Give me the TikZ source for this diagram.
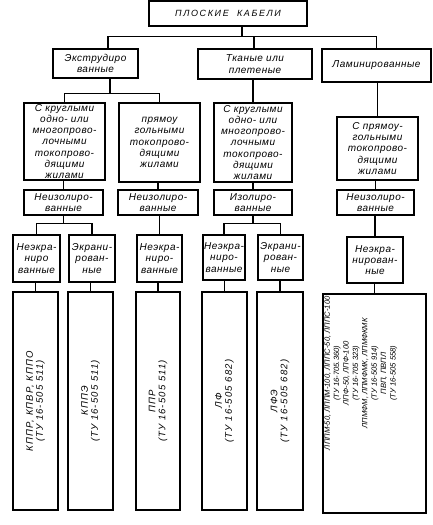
\documentclass[tikz,border=0pt]{standalone}
\usepackage{fontspec}
\setmainfont{Liberation Sans}
\tikzset{
  box/.style={draw, line width=1.4pt, align=center, inner sep=1pt,
    font=\itshape\fontsize{10}{11.3}\selectfont\addfontfeature{LetterSpace=5}},
  conn/.style={line width=1.4pt},
  vtext/.style={rotate=90, align=center, inner sep=0pt,
    font=\itshape\fontsize{9.5}{10}\selectfont\addfontfeature{LetterSpace=12}},
}
\begin{document}
\begin{tikzpicture}[x=1pt,y=-1pt]
\useasboundingbox (0,0) rectangle (433,525);
% level 1
\node[box, minimum width=158, minimum height=25,
  font=\itshape\fontsize{9}{10}\selectfont\addfontfeature{LetterSpace=18}] (top) at (228,13.5) {ПЛОСКИЕ\ \ КАБЕЛИ};
% level 2
\node[box, minimum width=85, minimum height=29] (l2a) at (95.5,63.5) {Экструдиро\\ванные};
\node[box, minimum width=114, minimum height=30] (l2b) at (255,64) {Тканые или\\плетеные};
\node[box, minimum width=109, minimum height=33] (l2c) at (376.5,65.5) {Ламинированные};
% level 3
\node[box, minimum width=81, minimum height=77] (l3a) at (64.5,141.5) {С круглыми\\одно- или\\многопрово-\\лочными\\токопрово-\\дящими\\жилами};
\node[box, minimum width=81, minimum height=79] (l3b) at (159.5,142.5) {прямоу\\гольными\\токопрово-\\дящими\\жилами};
\node[box, minimum width=78, minimum height=79] (l3c) at (253,142.5) {С круглыми\\одно- или\\многопрово-\\лочными\\токопрово-\\дящими\\жилами};
\node[box, minimum width=81, minimum height=63] (l3d) at (377.5,148.5) {С прямоу-\\гольными\\токопрово-\\дящими\\жилами};
% level 4
\node[box, minimum width=79, minimum height=25] (l4a) at (63.5,202.5) {Неизолиро-\\ванные};
\node[box, minimum width=80, minimum height=25] (l4b) at (158,202.5) {Неизолиро-\\ванные};
\node[box, minimum width=78, minimum height=25] (l4c) at (253,202.5) {Изолиро-\\ванные};
\node[box, minimum width=77, minimum height=25] (l4d) at (375.5,202.5) {Неизолиро-\\ванные};
% level 5
\node[box, minimum width=47, minimum height=47] (l5a) at (36.5,258.5) {Неэкра-\\ниро\\ванные};
\node[box, minimum width=46, minimum height=47] (l5b) at (92,258.5) {Экрани-\\рован-\\ные};
\node[box, minimum width=45, minimum height=47] (l5c) at (159.5,258.5) {Неэкра-\\ниро-\\ванные};
\node[box, minimum width=42, minimum height=45] (l5d) at (224,257.5) {Неэкра-\\ниро-\\ванные};
\node[box, minimum width=45, minimum height=45] (l5e) at (280.5,257.5) {Экрани-\\рован-\\ные};
\node[box, minimum width=56, minimum height=46] (l5f) at (375,260) {Неэкра-\\нирован-\\ные};
% level 6
\node[box, minimum width=45, minimum height=218] (l6a) at (35.5,401) {};
\node[box, minimum width=45, minimum height=218] (l6b) at (90.5,401) {};
\node[box, minimum width=44, minimum height=218] (l6c) at (158,401) {};
\node[box, minimum width=45, minimum height=218] (l6d) at (224.5,401) {};
\node[box, minimum width=46, minimum height=218] (l6e) at (280,401) {};
\node[box, minimum width=103, minimum height=219] (l6f) at (374.5,403.5) {};
\node[vtext] (t6a) at (l6a.center) {КППР, КПВР, КППО\\(ТУ 16-505 511)};
\node[vtext] (t6b) at (l6b.center) {КППЭ\\(ТУ 16-505 511)};
\node[vtext] (t6c) at (l6c.center) {ППР\\(ТУ 16-505 511)};
\node[vtext] (t6d) at (l6d.center) {ЛФ\\(ТУ 16-505 682)};
\node[vtext] (t6e) at (l6e.center) {ЛФЭ\\(ТУ 16-505 682)};
\node[vtext, anchor=north east, font=\itshape\fontsize{7.6}{9.4}\selectfont] (t6f) at ([xshift=2, yshift=-3]l6f.north west)
  {ЛППМ-50, ЛППМ-100, ЛППС-50, ЛППС-100\\(ТУ 16-705.360)\\ЛПФ-50, ЛПФ-100\\(ТУ 16-705 323)\\ЛПМФМ, ЛПМФМК, ЛПМФКМК\\(ТУ 16-505 914)\\ПВП, ПВПЛ\\(ТУ 16-505 558)};
% connectors level 1-2
\draw[conn] ([xshift=14]top.south) -- ++(0,10) coordinate (b1);
\draw[conn] ([xshift=12.5]l2a.north) |- (l2c.north |- b1) -- (l2c.north);
\draw[conn] ([xshift=-1]l2b.north) -- ([xshift=-1]l2b.north |- b1);
% level 2-3
\draw[conn] ([xshift=14.5]l2a.south) -- ++(0,15) coordinate (b2);
\draw[conn] (l3a.north) |- (l3b.north |- b2) -- (l3b.north);
\draw[conn] (l3c.north |- l2b.south) -- (l3c.north);
\draw[conn] (l3d.north |- l2c.south) -- (l3d.north);
% level 3-4
\draw[conn] (l4a.north |- l3a.south) -- (l4a.north);
\draw[conn] (l4b.north |- l3b.south) -- (l4b.north);
\draw[conn] (l4c.north |- l3c.south) -- (l4c.north);
\draw[conn] (l4d.north |- l3d.south) -- (l4d.north);
% level 4-5
\draw[conn] (l4a.south) -- ++(0,8) coordinate (b3);
\draw[conn] (l5a.north) |- (l5b.north |- b3) -- (l5b.north);
\draw[conn] (l5c.north |- l4b.south) -- (l5c.north);
\draw[conn] (l4c.south) -- ++(0,8) coordinate (b4);
\draw[conn] (l5d.north) |- (l5e.north |- b4) -- (l5e.north);
\draw[conn] (l5f.north |- l4d.south) -- (l5f.north);
% level 5-6
\draw[conn] (l6a.north |- l5a.south) -- (l6a.north);
\draw[conn] (l6b.north |- l5b.south) -- (l6b.north);
\draw[conn] (l6c.north |- l5c.south) -- (l6c.north);
\draw[conn] (l6d.north |- l5d.south) -- (l6d.north);
\draw[conn] (l6e.north |- l5e.south) -- (l6e.north);
\draw[conn] (l6f.north |- l5f.south) -- (l6f.north);
\end{tikzpicture}
\end{document}
